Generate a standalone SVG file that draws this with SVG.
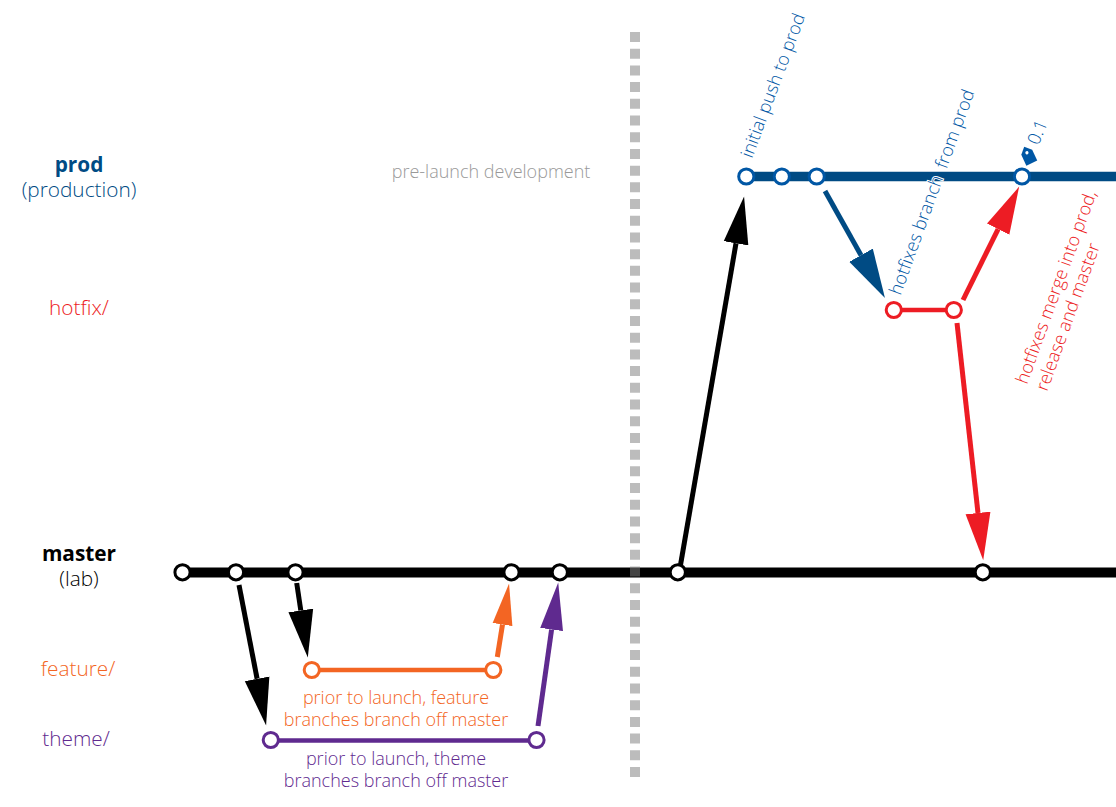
<svg xmlns="http://www.w3.org/2000/svg" width="1116" height="807" viewBox="0 0 1116 807">
<style>
text{font-family:"Open Sans","Noto Sans","Liberation Sans",sans-serif;font-weight:300;font-size:18px}
.big{font-size:20.8px}
.c{text-anchor:middle}
.n{fill:#fff;stroke-width:3;r:7.6px}
.a{fill:none;stroke-width:5}
.blue{fill:#0057a5}.dblue{fill:#004b84}.red{fill:#ed1c24}.org{fill:#f36523}.pur{fill:#5f2a8f}
</style>
<defs>
<marker id="hk" markerUnits="userSpaceOnUse" markerWidth="50" markerHeight="26" refX="0" refY="13" orient="auto"><path d="M0,0.5L47.5,13L0,25.5Z" fill="#000"/></marker>
<marker id="hb" markerUnits="userSpaceOnUse" markerWidth="50" markerHeight="28" refX="0" refY="14" orient="auto"><path d="M0,0.5L49,14L0,27.5Z" fill="#004b84"/></marker>
<marker id="hr" markerUnits="userSpaceOnUse" markerWidth="50" markerHeight="26" refX="0" refY="13" orient="auto"><path d="M0,0.5L47.5,13L0,25.5Z" fill="#ed1c24"/></marker>
<marker id="hp" markerUnits="userSpaceOnUse" markerWidth="50" markerHeight="26" refX="0" refY="13" orient="auto"><path d="M0,1.5L47.5,13L0,24.5Z" fill="#5f2a8f"/></marker>
<marker id="ho" markerUnits="userSpaceOnUse" markerWidth="50" markerHeight="26" refX="0" refY="13" orient="auto"><path d="M0,3L41.5,13L0,23Z" fill="#f36523"/></marker>
</defs>
<g id="lanes">
<line x1="746" y1="176.5" x2="1116" y2="176.5" stroke="#004b84" stroke-width="9.5"/>
<line x1="894" y1="310" x2="954" y2="310" stroke="#ed1c24" stroke-width="4.5"/>
<line x1="182" y1="572.6" x2="1116" y2="572.6" stroke="#000" stroke-width="10"/>
<line x1="312" y1="670" x2="493" y2="670" stroke="#f36523" stroke-width="4.5"/>
<line x1="271" y1="740.5" x2="537" y2="740.5" stroke="#5f2a8f" stroke-width="4.5"/>
</g>
<line id="divider" x1="635" y1="32" x2="635" y2="777" stroke="#808080" stroke-opacity=".53" stroke-width="10" stroke-dasharray="10 6.705"/>
<g id="connectors">
<line class="a" x1="680.5" y1="565" x2="736" y2="243.3" stroke="#000" marker-end="url(#hk)"/>
<line class="a" x1="825" y1="191" x2="861" y2="255.2" stroke="#004b84" marker-end="url(#hb)"/>
<line class="a" x1="963" y1="300" x2="998.1" y2="229.1" stroke="#ed1c24" marker-end="url(#hr)"/>
<line class="a" x1="957" y1="323" x2="978" y2="513" stroke="#ed1c24" marker-end="url(#hr)"/>
<line class="a" x1="239" y1="585" x2="257.1" y2="678.8" stroke="#000" marker-end="url(#hk)"/>
<line class="a" x1="296.7" y1="583" x2="300.8" y2="610.5" stroke="#000" marker-end="url(#hk)"/>
<line class="a" x1="497.3" y1="657" x2="502.5" y2="624.5" stroke="#f36523" marker-end="url(#ho)"/>
<line class="a" x1="538" y1="726" x2="551.6" y2="629.5" stroke="#5f2a8f" marker-end="url(#hp)"/>
</g>
<g id="prod-nodes" stroke="#0057a5">
<circle id="p1" class="n" cx="746.3" cy="176.5" r="7.6"/>
<circle id="p2" class="n" cx="781.8" cy="176.5" r="7.6"/>
<circle id="p3" class="n" cx="816.7" cy="176.5" r="7.6"/>
<circle id="p4" class="n" cx="1022" cy="176.5" r="7.6"/>
</g>
<g id="hotfix-nodes" stroke="#ed1c24">
<circle id="h1" class="n" cx="893.8" cy="310" r="7.6"/>
<circle id="h2" class="n" cx="953.8" cy="310" r="7.6"/>
</g>
<g id="master-nodes" stroke="#000">
<circle id="m1" class="n" cx="182.5" cy="572.3" r="7.6"/>
<circle id="m2" class="n" cx="236" cy="572.3" r="7.6"/>
<circle id="m3" class="n" cx="295.5" cy="572.3" r="7.6"/>
<circle id="m4" class="n" cx="511.5" cy="572.3" r="7.6"/>
<circle id="m5" class="n" cx="559.8" cy="572.3" r="7.6"/>
<circle id="m6" class="n" cx="677.8" cy="572.3" r="7.6"/>
<circle id="m7" class="n" cx="982.8" cy="572.3" r="7.6"/>
</g>
<g id="feature-nodes" stroke="#f36523">
<circle id="f1" class="n" cx="311.8" cy="670" r="7.6"/>
<circle id="f2" class="n" cx="493.3" cy="670" r="7.6"/>
</g>
<g id="theme-nodes" stroke="#5f2a8f">
<circle id="t1" class="n" cx="270.8" cy="740" r="7.6"/>
<circle id="t2" class="n" cx="536.5" cy="740" r="7.6"/>
</g>
<g id="tag" transform="rotate(-25 1028 155)">
<path class="blue" d="M1028,146L1034,152V164H1022V152Z"/>
<circle cx="1028" cy="152.5" r="1.6" fill="#fff"/>
</g>
<g id="labels">
<text class="c big dblue" x="79" y="172" style="font-weight:700">prod</text>
<text class="c big dblue" x="79" y="197">(production)</text>
<text class="c big red" x="79" y="315">hotfix/</text>
<text class="c big" x="79" y="561" style="font-weight:700">master</text>
<text class="c big" x="79" y="586">(lab)</text>
<text class="c big org" x="78" y="676">feature/</text>
<text class="c big pur" x="76" y="746">theme/</text>
<text x="491" y="178" class="c" style="fill:#999">pre-launch development</text>
<text class="c org" x="396" y="704">prior to launch, feature</text>
<text class="c org" x="396" y="726">branches branch off master</text>
<text class="c pur" x="396" y="765">prior to launch, theme</text>
<text class="c pur" x="396" y="787">branches branch off master</text>
<text class="blue" transform="translate(752 159) rotate(-69.5)">initial push to prod</text>
<text class="blue" style="paint-order:stroke;stroke:#fff;stroke-width:2" transform="translate(900.5 296) rotate(-70)">hotfixes branch <tspan dx="4">from prod</tspan></text>
<text class="blue" transform="translate(1038.5 146) rotate(-68)">0.1</text>
<text class="red" transform="translate(1027 385) rotate(-70)">hotfixes merge into prod,</text>
<text class="red" transform="translate(1047 392) rotate(-70)">release and master</text>
</g>
</svg>
